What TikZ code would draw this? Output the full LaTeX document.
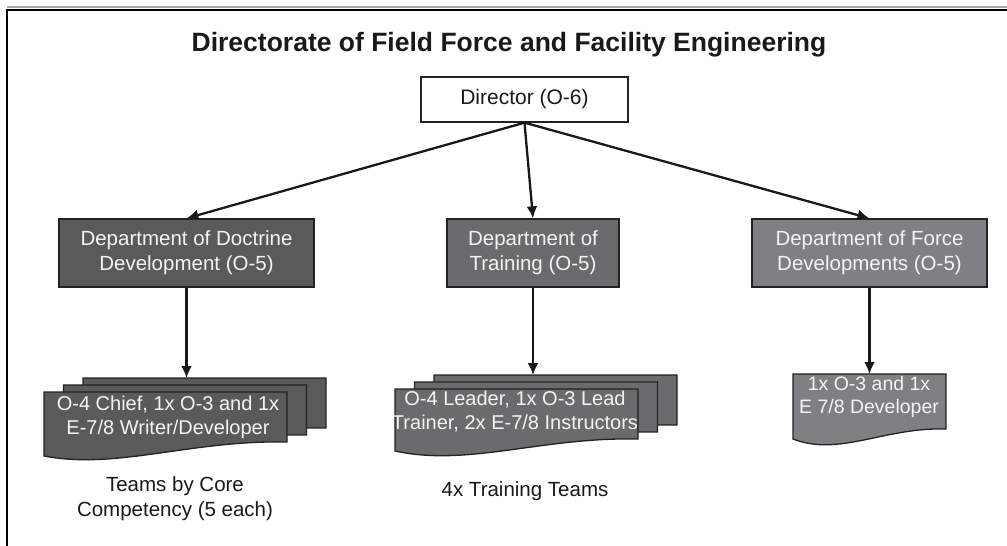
\documentclass[tikz,border=0pt]{standalone}
\usepackage{fontspec}
\setmainfont{Liberation Sans}
\usetikzlibrary{arrows.meta,calc}
\definecolor{gL}{HTML}{5A5A5B}
\definecolor{gM}{HTML}{6B6B6D}
\definecolor{gR}{HTML}{7F8083}
\definecolor{edge}{HTML}{222222}
\definecolor{wtxt}{HTML}{F4F4F4}
\tikzset{
  dept/.style={draw=edge, line width=1.3pt, text=wtxt, align=center,
    font=\fontsize{20.5}{25}\selectfont, inner sep=0pt, minimum height=68pt},
  docbox/.style={minimum width=243pt, minimum height=50pt, inner sep=0pt, outer sep=0pt},
  docfill/.style={draw=edge, line width=1.3pt},
  conn/.style={line width=2.3pt, draw=black!90, -{Latex[length=12pt,width=11pt]}},
  doctext/.style={text=wtxt, align=center, font=\fontsize{20}{24}\selectfont, inner sep=0pt},
  lbl/.style={align=center, font=\fontsize{20.5}{25}\selectfont, text=black!90, inner sep=0pt}
}
\newcommand{\docpath}[3]{%
  \draw[docfill, fill=#2] (#1.north west) -- (#1.north east) -- (#1.south east)
    .. controls ($(#1.south east)!0.4!(#1.south west)+(0,-2)$) and ($(#1.south east)!0.7!(#1.south west)+(0,28)$) .. ($(#1.south west)+(0,#3)$) -- cycle;}
\begin{document}
\begin{tikzpicture}[x=1pt,y=-1pt]
\useasboundingbox (0,0) rectangle (1007,546);
% frame
\draw[black!35, line width=1.2pt] (7,7) -- (1007,7);
\draw[black, line width=2pt] (7,546) -- (7,9.5) -- (1007,9.5);
% title
\node[font=\fontsize{26.5}{30}\selectfont\bfseries, text=black!90] (title) at (509,45) {Directorate of Field Force and Facility Engineering};
% director
\node[draw=edge, line width=1.3pt, fill=white, minimum width=207pt, minimum height=45pt, inner sep=0pt,
  font=\fontsize{21}{25}\selectfont, text=black!90] (dir) at (524.5,99.5) {Director (O-6)};
% departments
\node[dept, fill=gL, minimum width=255pt] (deptL) at (186.5,253) {Department of Doctrine\\Development (O-5)};
\node[dept, fill=gM, minimum width=172pt] (deptM) at (533,253) {Department of\\Training (O-5)};
\node[dept, fill=gR, minimum width=235pt] (deptR) at (869.5,253) {Department of Force\\Developments (O-5)};
% document shapes (left)
\node[docbox] (backL) at (204.5,403) {};
\node[docbox] (midL) at (185,410) {};
\node[docbox] (frontL) at (165.5,417) {};
\docpath{backL}{gL}{14}
\docpath{midL}{gL}{14}
\docpath{frontL}{gL}{14}
% document shapes (middle)
\node[docbox] (backM) at (555.5,400) {};
\node[docbox] (midM) at (536,407) {};
\node[docbox] (frontM) at (516.5,414) {};
\docpath{backM}{gM}{12}
\docpath{midM}{gM}{12}
\docpath{frontM}{gM}{12}
% document shape (right)
\node[docbox, minimum width=153pt, minimum height=55pt] (docR) at (869.5,401.5) {};
\docpath{docR}{gR}{10}
% texts in documents
\node[doctext] (txtL) at (168,417) {O-4 Chief, 1x O-3 and 1x\\E-7/8 Writer/Developer};
\node[doctext] (txtM) at (515,412) {O-4 Leader, 1x O-3 Lead\\Trainer, 2x E-7/8 Instructors};
\node[doctext, font=\fontsize{19.5}{23}\selectfont] (txtR) at (869,397) {1x O-3 and 1x\\E 7/8 Developer};
% labels
\node[lbl] (lblL) at (175,499) {Teams by Core\\Competency (5 each)};
\node[lbl] (lblM) at (525,491) {4x Training Teams};
% connectors
\draw[conn] (dir.south) -- (deptL.north);
\draw[conn] (dir.south) -- (deptM.north);
\draw[conn] (dir.south) -- (deptR.north);
\draw[conn] (deptL.south) -- (deptL.south |- backL.north);
\draw[conn] (deptM.south) -- (deptM.south |- backM.north);
\draw[conn] (deptR.south) -- (docR.north);
\end{tikzpicture}
\end{document}
